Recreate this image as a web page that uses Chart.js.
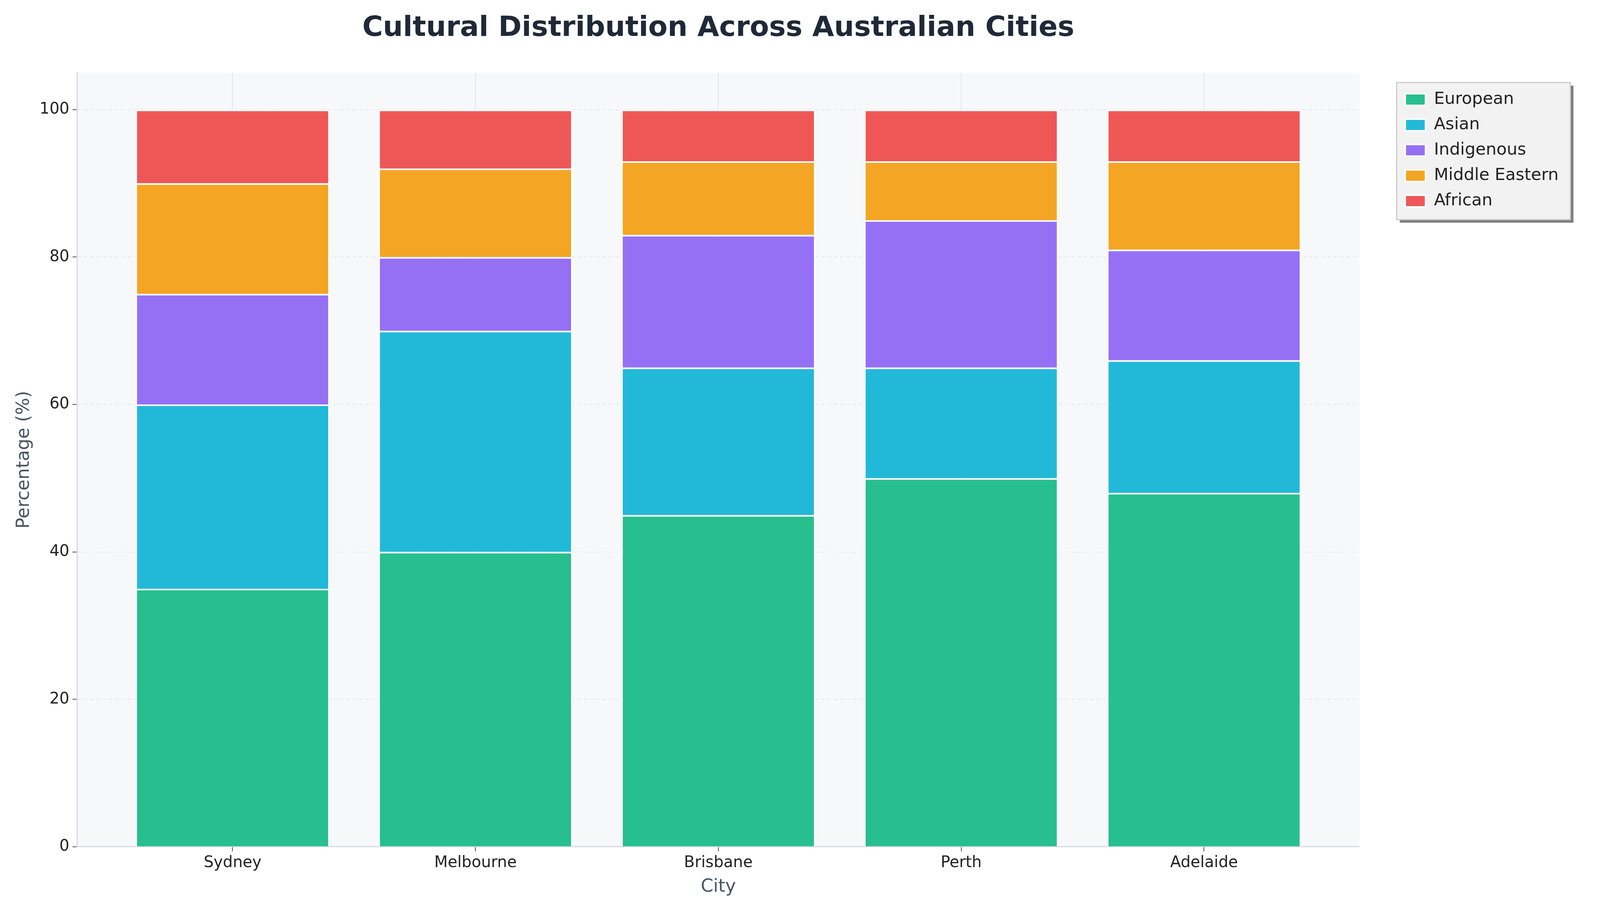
<!DOCTYPE html>
<html><head><meta charset="utf-8">
<script src="https://cdn.jsdelivr.net/npm/chart.js@4"></script>
<style>html,body{margin:0;padding:0;background:#fff}#w{width:4160px;height:2359px}</style>
</head><body><div id="w"><canvas id="c" width="4160" height="2359"></canvas></div>
<script>
const cities = ["Sydney","Melbourne","Brisbane","Perth","Adelaide"];
const european = [35,40,45,50,48];
const asian = [25,30,20,15,18];
const indigenous = [15,10,18,20,15];
const middleEastern = [15,12,10,8,12];
const african = [10,8,7,7,7];
const yTicks = [0,20,40,60,80,100];

const F = "'DejaVu Sans', sans-serif";
const bg = {id:'bg',
 afterLayout(ch){const l=ch.legend,dx=95,dy=25;l.left+=dx;l.right+=dx;l.top+=dy;l.bottom+=dy;},
 beforeDraw(ch){const a=ch.chartArea,x=ch.ctx;x.save();x.fillStyle='#f7f8fa';x.fillRect(a.left,a.top,a.right-a.left,a.bottom-a.top);
  const hb=ch.legend.legendHitBoxes;
  if(hb&&hb.length){let L=Math.min(...hb.map(b=>b.left))-22,T=Math.min(...hb.map(b=>b.top))-22,R=Math.max(...hb.map(b=>b.left+b.width))+30,B=Math.max(...hb.map(b=>b.top+b.height))+26;
   x.shadowColor='rgba(0,0,0,0.5)';x.shadowOffsetX=8;x.shadowOffsetY=8;x.fillStyle='#f2f2f2';x.fillRect(L,T,R-L,B-T);x.shadowColor='transparent';x.strokeStyle='#cccccc';x.lineWidth=3;x.strokeRect(L,T,R-L,B-T);}
  x.restore();}};
const mk=(label,data,color)=>({label,data:data.map((v,i)=>({x:i,y:v})),backgroundColor:color,borderColor:'#ffffff',borderWidth:4,barPercentage:0.8,categoryPercentage:1});
Chart.defaults.font.family=F;
new Chart(document.getElementById('c'),{type:'bar',
 data:{datasets:[mk('European',european,'#27bf8d'),mk('Asian',asian,'#22b9d8'),mk('Indigenous',indigenous,'#9570f5'),mk('Middle Eastern',middleEastern,'#f4a523'),mk('African',african,'#ef5757')]},
 options:{responsive:false,animation:false,devicePixelRatio:1,
  layout:{padding:{left:30,right:255,top:20,bottom:55}},
  plugins:{title:{display:true,fullSize:false,text:'Cultural Distribution Across Australian Cities',color:'#1f2937',font:{size:72,weight:'bold'},padding:{top:10,bottom:70}},
   legend:{position:'right',align:'start',fullSize:false,labels:{boxWidth:52,boxHeight:30,font:{size:43},color:'#222',padding:22},onClick:null},
   tooltip:{enabled:false}},
  scales:{x:{type:'linear',stacked:true,offset:false,min:-0.64,max:cities.length-1+0.64,afterBuildTicks(s){s.ticks=cities.map((c,i)=>({value:i}));},
     grid:{offset:false,color:'rgba(200,210,225,0.5)',lineWidth:2,tickLength:12,tickColor:'#555'},border:{color:'#d6dce6',width:3,dash:[]},
     ticks:{font:{size:40},color:'#222',padding:6,callback:v=>cities[v]},title:{display:true,text:'City',font:{size:46},color:'#4b5563'}},
   y:{stacked:true,min:0,max:105,afterBuildTicks(s){s.ticks=yTicks.map(v=>({value:v}));},
     grid:{color:'rgba(200,210,225,0.5)',lineWidth:2,tickLength:12,tickColor:'#555'},border:{color:'#d6dce6',width:3,dash:[8,8]},
     ticks:{font:{size:40},color:'#222',padding:8},title:{display:true,text:'Percentage (%)',font:{size:46},color:'#4b5563'}}}},
 plugins:[bg]});
</script></body></html>
